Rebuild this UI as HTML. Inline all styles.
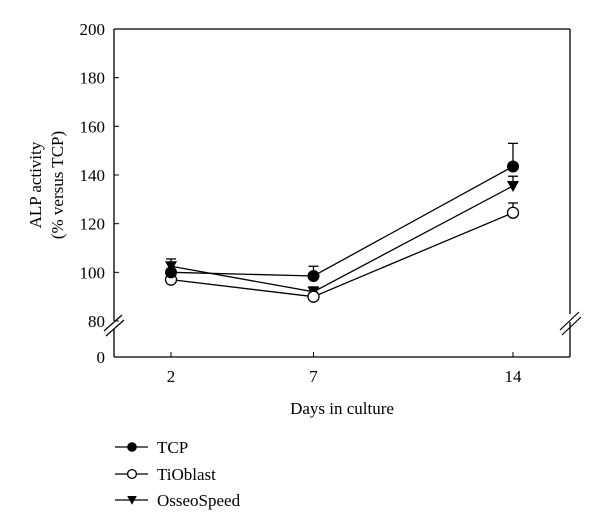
<!DOCTYPE html>
<html><head><meta charset="utf-8"><style>
body{margin:0;background:#fff}
svg{display:block;font-family:"Liberation Serif",serif}
</style></head><body>
<svg id="c" width="600" height="531"></svg>
<script>
const days=[2,7,14];
const yTicks=[80,100,120,140,160,180,200];
const tcpVals=[100,98.5,143.5];
const tcpErr=[0,4,9.5];
const tiVals=[97,90,124.5];
const tiErr=[0,1.5,4];
const osVals=[102.5,92,135.5];
const osErr=[3,2,4];
const NS="http://www.w3.org/2000/svg";
const svg=document.getElementById('c');
function xs(d){return 171+(d-2)*(513-171)/12;}
function ys(v){return 321-(v-80)*(321-29)/120;}
function mk(t,a,p){const e=document.createElementNS(NS,t);for(const k in a)e.setAttribute(k,a[k]);(p||svg).appendChild(e);return e;}
yTicks.forEach(v=>{
 const y=ys(v);
 const t=mk('line',{x1:114,x2:119,y1:y,y2:y,stroke:'#000'});
 
 
 const l=mk('text',{x:105,y:y+6,'text-anchor':'end','font-size':17});
 l.textContent=v;
 
 
});
const z=mk('line',{x1:114,x2:119,y1:357,y2:357,stroke:'#000'});


const zl=mk('text',{x:105,y:363,'text-anchor':'end','font-size':17});zl.textContent='0';


// axes with breaks
mk('line',{x1:114,x2:570,y1:29,y2:29,stroke:'#000','stroke-width':1.3});
mk('line',{x1:114,x2:570,y1:357,y2:357,stroke:'#000','stroke-width':1.3});
mk('line',{x1:114,x2:114,y1:29,y2:321,stroke:'#000','stroke-width':1.3});
mk('line',{x1:114,x2:114,y1:329,y2:357,stroke:'#000','stroke-width':1.3});
mk('line',{x1:570,x2:570,y1:29,y2:314,stroke:'#000','stroke-width':1.3});
mk('line',{x1:570,x2:570,y1:322,y2:357,stroke:'#000','stroke-width':1.3});
[[104,331,122,315],[106,336,124,320],[560,330,579,312],[562,335,581,317]].forEach(b=>{
 mk('line',{x1:b[0],y1:b[1],x2:b[2],y2:b[3],stroke:'#000','stroke-width':1.2});
});
days.forEach(d=>{
 const x=xs(d);
 const t=mk('line',{x1:x,x2:x,y1:352,y2:357,stroke:'#000'});
 
 
 const l=mk('text',{x:x,y:382,'text-anchor':'middle','font-size':17});l.textContent=d;
 
 
});
const xt=mk('text',{x:342,y:414,'text-anchor':'middle','font-size':17});xt.textContent='Days in culture';


const yt=mk('text',{transform:'translate(41,185) rotate(-90)','text-anchor':'middle','font-size':17});


const t1=mk('tspan',{x:0,dy:0},yt);t1.textContent='ALP activity';
const t2=mk('tspan',{x:0,dy:22},yt);t2.textContent='(% versus TCP)';
function marker(type,x,y,g,s){
 s=s||1;
 if(type==='tcp')return mk('circle',{cx:x,cy:y,r:6*s,fill:'#000'},g);
 if(type==='ti')return mk('circle',{cx:x,cy:y,r:5.5*s,fill:'#fff',stroke:'#000','stroke-width':1.3},g);
 return mk('path',{d:`M${x-6*s},${y-5*s}L${x+6*s},${y-5*s}L${x},${y+6*s}Z`,fill:'#000'},g);
}
const series=[['os',osVals,osErr],['ti',tiVals,tiErr],['tcp',tcpVals,tcpErr]];
series.forEach(([type,vals,errs])=>{
 const g=mk('g',{});
 
 
 vals.forEach((v,i)=>{
  if(errs[i]>0){
   const x=xs(days[i]);
   mk('line',{x1:x,x2:x,y1:ys(v),y2:ys(v+errs[i]),stroke:'#000','stroke-width':1.3},g);
   mk('line',{x1:x-5,x2:x+5,y1:ys(v+errs[i]),y2:ys(v+errs[i]),stroke:'#000','stroke-width':1.3},g);
  }
 });
 mk('polyline',{points:vals.map((v,i)=>xs(days[i])+','+ys(v)).join(' '),fill:'none',stroke:'#000','stroke-width':1.3},g);
 vals.forEach((v,i)=>{
  const m=marker(type,xs(days[i]),ys(v),g);
  
  
 });
});
const leg=[['tcp','TCP',447],['ti','TiOblast',474],['os','OsseoSpeed',500]];
leg.forEach(([type,name,y])=>{
 const g=mk('g',{});
 
 
 mk('line',{x1:115,x2:148,y1:y,y2:y,stroke:'#000','stroke-width':1.3},g);
 marker(type,132,y,g,0.8);
 const t=mk('text',{x:157,y:y+6,'font-size':17},g);t.textContent=name;
});
</script>
</body></html>
